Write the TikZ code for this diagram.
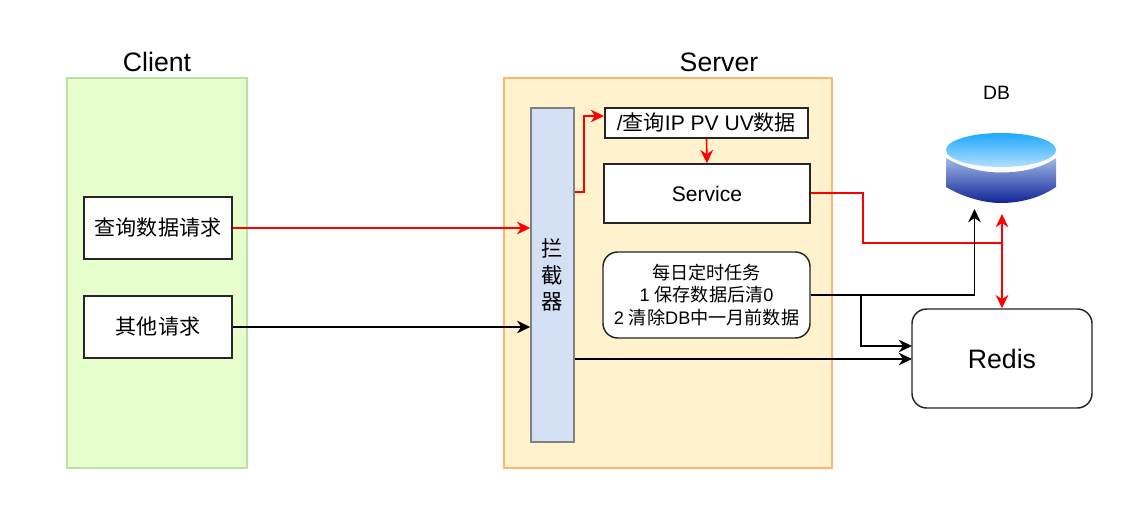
\documentclass[tikz,border=0pt]{standalone}
\usepackage{fontspec}
\setmainfont{Liberation Sans}
\newfontfamily\cjk{Noto Sans CJK SC}
\newcommand{\zh}[1]{{\cjk #1}}
\usetikzlibrary{arrows.meta,positioning}

\begin{document}
\begin{tikzpicture}[
  x=0.75pt,y=-0.75pt,
  box/.style={draw=black!85,rectangle,align=center,line width=1.1pt,inner sep=0pt,
              font=\fontsize{15.8}{19}\selectfont},
  zone/.style={rectangle,line width=1pt,minimum width=180*0.75pt,minimum height=390*0.75pt},
  title/.style={font=\fontsize{20}{24}\selectfont,inner sep=0pt},
  rarr/.style={-{Stealth[length=10pt,width=9.5pt]},red,line width=1.2pt},
  barr/.style={-{Stealth[length=10pt,width=9.5pt]},black,line width=1.1pt}
]
\useasboundingbox (0,0) rectangle (1133,509);

%% Zones
\node[zone,fill={rgb,255:red,230;green,255;blue,204},draw={rgb,255:red,185;green,224;blue,165}] (client) at (157,273) {};
\node[zone,fill={rgb,255:red,255;green,242;blue,204},draw={rgb,255:red,255;green,181;blue,112},minimum width=328*0.75pt] (server) at (668,273) {};
\node[title] (clientt) at (157,62) {Client};
\node[title] (servert) at (719,62) {Server};

%% Client boxes
\node[box,fill=white,minimum width=148*0.75pt,minimum height=62*0.75pt] (query) at (158,228) {\zh{查询数据请求}};
\node[box,fill=white,minimum width=148*0.75pt,minimum height=62*0.75pt] (other) at (158,327) {\zh{其他请求}};

%% Server boxes
\node[box,fill={rgb,255:red,212;green,225;blue,245},draw=black!50,minimum width=43*0.75pt,minimum height=334*0.75pt,
      font=\fontsize{16}{20}\selectfont] (filter) at (552.5,275) {\zh{拦}\\\zh{截}\\\zh{器}};
\node[box,fill=white,minimum width=203*0.75pt,minimum height=30*0.75pt] (ipquery) at (706.5,123) {/\zh{查询}IP PV UV\zh{数据}};
\node[box,fill=white,minimum width=206*0.75pt,minimum height=59*0.75pt] (service) at (707,193.5) {Service};
\node[box,fill=white,rounded corners=11pt,minimum width=207*0.75pt,minimum height=86*0.75pt,
      font=\fontsize{13.6}{17}\selectfont] (task) at (706.5,295)
      {\zh{每日定时任务}\\1 \zh{保存数据后清}0\\2 \zh{清除}DB\zh{中一月前数据}};

%% Redis and DB
\node[box,fill=white,rounded corners=11pt,minimum width=180*0.75pt,minimum height=99*0.75pt,
      font=\fontsize{20}{24}\selectfont] (redis) at (1002,358.5) {Redis};
\node[font=\fontsize{14.5}{18}\selectfont,inner sep=0pt] (dbt) at (996.5,93) {DB};
\shade[top color={rgb,255:red,160;green,185;blue,232},bottom color={rgb,255:red,16;green,36;blue,150}]
  (946,158) -- (946,187) .. controls (965,198) and (985,203) .. (1001,203)
  .. controls (1020,203) and (1040,198) .. (1056,187) -- (1056,158)
  .. controls (1040,169) and (1020,172.5) .. (1001,172.5)
  .. controls (985,172.5) and (965,169) .. (946,158) -- cycle;
\shade[top color={rgb,255:red,30;green,168;blue,255},bottom color={rgb,255:red,178;green,224;blue,255}]
  (1001,150) ellipse [x radius=55,y radius=17];

%% Free ends
\coordinate (dbin) at (974.5,209);
\coordinate (dbred) at (1002,214);
\coordinate (ipin) at (604,116);
\coordinate (filterout) at (575,192);
\coordinate (join) at (1002,243);
\coordinate (redisin) at (912,346);
\coordinate (redisin2) at (912,359);
\coordinate (filterout2) at (575,359);

%% Red connectors
\draw[rarr] (query.east) -- (filter.west |- query.east);
\draw[rarr] (filterout) -- ++(9,0) |- (ipin);
\draw[rarr] (ipquery.south) -- (service.north);
\draw[red,line width=1.5pt] (service.east) -| (863,243) -- (join);
\draw[rarr,{Stealth[length=10pt,width=9.5pt]}-{Stealth[length=10pt,width=9.5pt]}] (dbred) -- (redis.north);

%% Black connectors
\draw[barr] (other.east) -- (filter.west |- other.east);
\draw[barr] (filterout2) -- (redisin2);
\draw[barr] (task.east) -| (dbin);
\draw[barr] (task.east) -- (861,295) |- (redisin);
\end{tikzpicture}
\end{document}
